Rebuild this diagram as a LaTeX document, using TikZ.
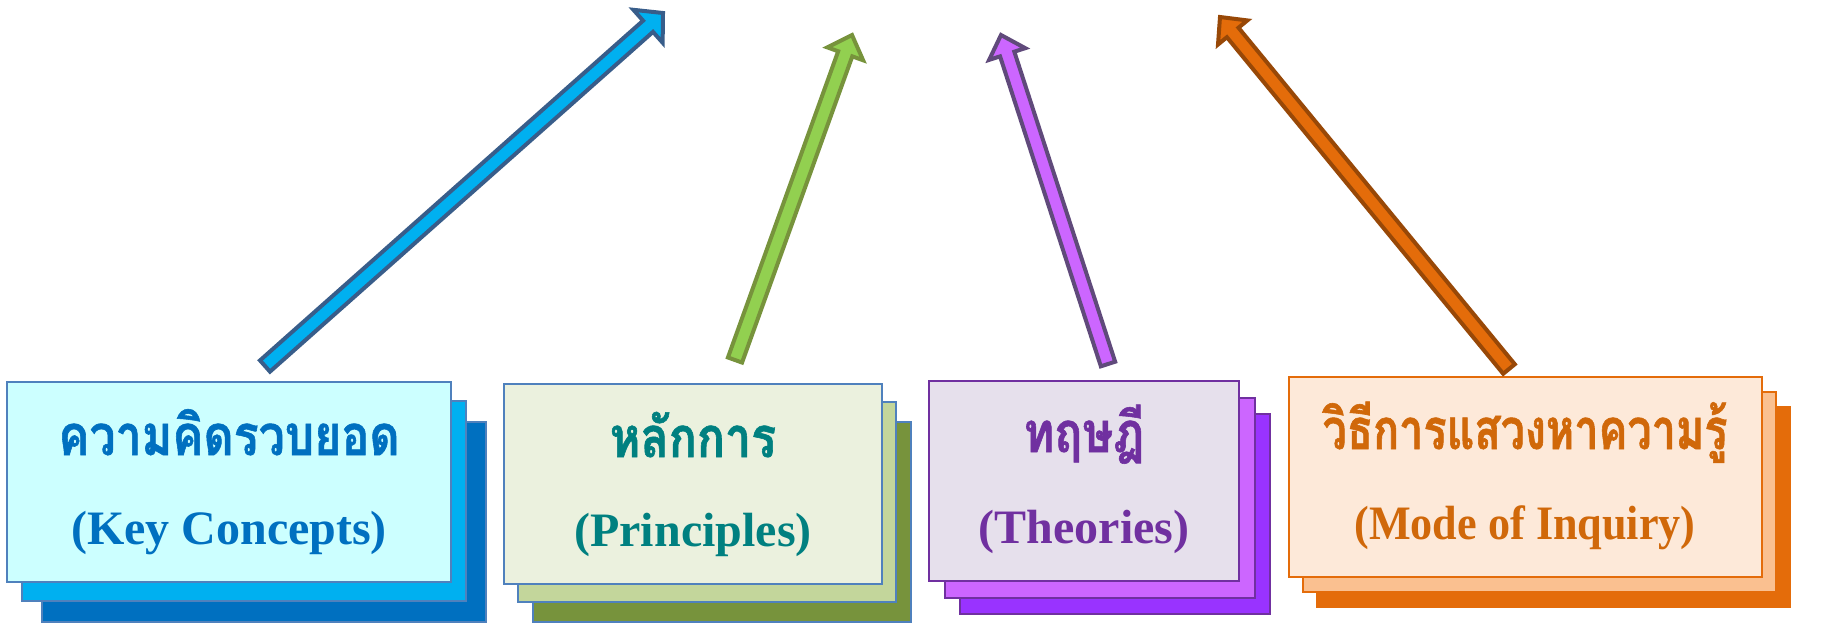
\documentclass[tikz,border=0pt]{standalone}
\usepackage{fontspec}
\setmainfont{Liberation Serif}
\newfontfamily\latinn[FakeStretch=0.92]{Liberation Serif}
\newfontfamily\thaifont[Script=Thai, FakeStretch=0.83, BoldFeatures={FakeBold=1}]{Loma}
\newfontfamily\thaifontn[Script=Thai, FakeStretch=0.77, BoldFeatures={FakeBold=1}]{Loma}
\usetikzlibrary{calc}
\definecolor{kcText}{HTML}{0070C0}
\definecolor{kcFront}{HTML}{CCFFFF}
\definecolor{kcMid}{HTML}{00B0F0}
\definecolor{kcBack}{HTML}{0070C0}
\definecolor{kcLine}{HTML}{4F81BD}
\definecolor{prText}{HTML}{008080}
\definecolor{prFront}{HTML}{EBF1DE}
\definecolor{prMid}{HTML}{C3D69B}
\definecolor{prBack}{HTML}{77933C}
\definecolor{thText}{HTML}{7030A0}
\definecolor{thFront}{HTML}{E6E0EC}
\definecolor{thMid}{HTML}{CC66FF}
\definecolor{thBack}{HTML}{9933FF}
\definecolor{moText}{HTML}{D0680A}
\definecolor{moFront}{HTML}{FDE9D9}
\definecolor{moMid}{HTML}{FAC090}
\definecolor{moBack}{HTML}{E46C0A}
\definecolor{arBlueF}{HTML}{00B0F0}
\definecolor{arBlueD}{HTML}{385D8A}
\definecolor{arGreenF}{HTML}{92D050}
\definecolor{arGreenD}{HTML}{77933C}
\definecolor{arPurpF}{HTML}{CC66FF}
\definecolor{arPurpD}{HTML}{604A7B}
\definecolor{arOrF}{HTML}{E46C0A}
\definecolor{arOrD}{HTML}{984807}
\newcommand\fatarrow[5]{%
  \coordinate (hb) at ($(#2)!10pt!(#1)$);
  \filldraw[fill=#3, draw=#4, line width=2pt, miter limit=10]
    ($(#1)!3.75pt!90:(#2)$) -- ($(hb)!3.75pt!-90:(#1)$) -- ($(hb)!#5!-90:(#1)$)
    -- (#2) -- ($(hb)!#5!90:(#1)$) -- ($(hb)!3.75pt!90:(#1)$)
    -- ($(#1)!3.75pt!-90:(#2)$) -- cycle;
}
\begin{document}
\begin{tikzpicture}[x=0.5pt, y=-0.5pt,
  layer/.style={draw, line width=0.75pt, inner sep=0pt, outer sep=0pt,
    minimum height=100pt, anchor=north west},
  thai/.style={font=\thaifont\bfseries\fontsize{28pt}{30pt}\selectfont, anchor=base, inner sep=0pt},
  thain/.style={font=\thaifontn\bfseries\fontsize{28pt}{30pt}\selectfont, anchor=base, inner sep=0pt},
  latin/.style={font=\bfseries\fontsize{24pt}{28pt}\selectfont, anchor=base, inner sep=0pt},
  latinnarrow/.style={font=\latinn\bfseries\fontsize{24pt}{28pt}\selectfont, anchor=base, inner sep=0pt}]
\useasboundingbox (0,0) rectangle (1831,623);
\fill[white] (0,0) rectangle (1831,623);

% Box 1: Key Concepts
\node[layer, draw=kcLine, fill=kcBack, minimum width=222pt] (kc3) at (42,422) {};
\node[layer, draw=kcLine, fill=kcMid, minimum width=222pt] (kc2) at (22,401) {};
\node[layer, draw=kcLine, fill=kcFront, minimum width=222pt] (kc) at (7,382) {};
\node[thai, text=kcText] (kcT) at (229,455) {ความคิดรวบยอด};
\node[latin, text=kcText] (kcE) at (229,544) {(Key Concepts)};

% Box 2: Principles
\node[layer, draw=kcLine, fill=prBack, minimum width=189pt] (pr3) at (533,422) {};
\node[layer, draw=kcLine, fill=prMid, minimum width=189pt] (pr2) at (518,402) {};
\node[layer, draw=kcLine, fill=prFront, minimum width=189pt] (pr) at (504,384) {};
\node[thai, text=prText] (prT) at (693,457) {หลักการ};
\node[latin, text=prText] (prE) at (693,546) {(Principles)};

% Box 3: Theories
\node[layer, draw=thText, fill=thBack, minimum width=155pt] (th3) at (960,414) {};
\node[layer, draw=thText, fill=thMid, minimum width=155pt] (th2) at (945,398) {};
\node[layer, draw=thText, fill=thFront, minimum width=155pt] (th) at (929,381) {};
\node[thai, text=thText] (thT) at (1084,452) {ทฤษฎี};
\node[latin, text=thText] (thE) at (1084,543) {(Theories)};

% Box 4: Mode of Inquiry
\node[layer, draw=moBack, fill=moBack, minimum width=236.5pt] (mo3) at (1317,407) {};
\node[layer, draw=moBack, fill=moMid, minimum width=236.5pt] (mo2) at (1303,392) {};
\node[layer, draw=moBack, fill=moFront, minimum width=236.5pt] (mo) at (1289,377) {};
\node[thain, text=moText] (moT) at (1525,449) {วิธีการแสวงหาความรู้};
\node[latinnarrow, text=moText] (moE) at (1525,539) {(Mode of Inquiry)};

% Arrows
\coordinate (a1s) at (265,366);
\coordinate (a1e) at (663,13);
\coordinate (a2s) at (735,360);
\coordinate (a2e) at (852,35);
\coordinate (a3s) at (1108,364);
\coordinate (a3e) at (1001,35);
\coordinate (a4s) at (1509,369);
\coordinate (a4e) at (1220,17);
\fatarrow{a1s}{a1e}{arBlueF}{arBlueD}{11pt}
\fatarrow{a2s}{a2e}{arGreenF}{arGreenD}{9.5pt}
\fatarrow{a3s}{a3e}{arPurpF}{arPurpD}{9.5pt}
\fatarrow{a4s}{a4e}{arOrF}{arOrD}{9.5pt}
\end{tikzpicture}
\end{document}
